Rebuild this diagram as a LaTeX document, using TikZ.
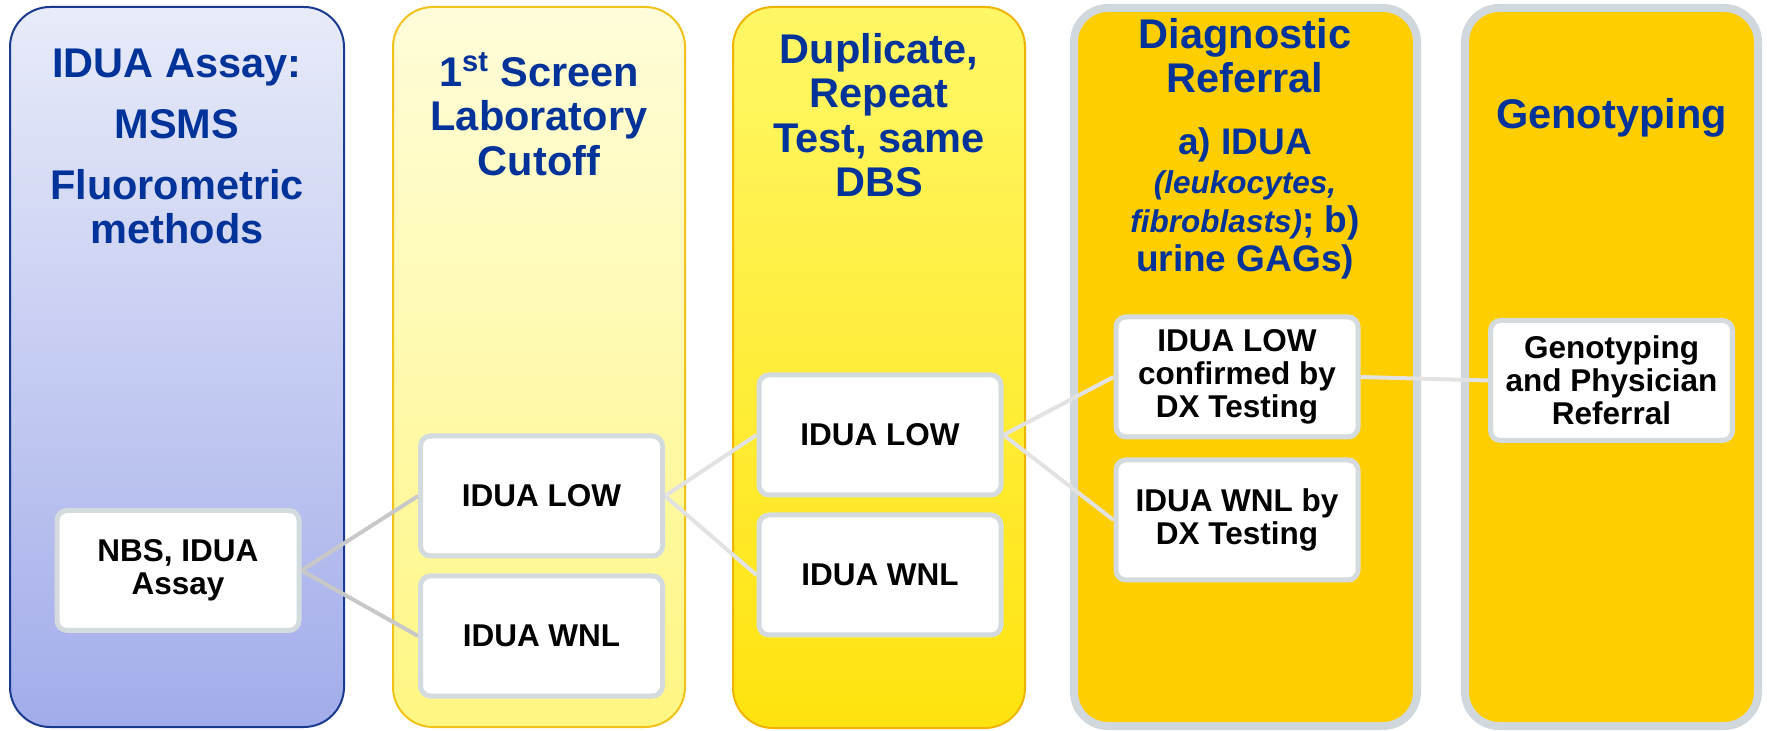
\documentclass[tikz,border=0pt]{standalone}
\usepackage{fontspec}
\setmainfont{Liberation Sans}
\definecolor{titleblue}{RGB}{0,51,153}
\definecolor{boxgray}{RGB}{211,219,223}
\definecolor{colgray}{RGB}{208,216,222}
\definecolor{gold}{RGB}{255,206,0}
\pgfdeclarelayer{bg}
\pgfsetlayers{bg,main}
\newcommand\firstln{\rule{0pt}{17pt}}
\newcommand\firstsub{\rule{0pt}{15pt}}
\newcommand\itsm{\itshape\fontsize{15.75}{19.5}\selectfont}
\begin{document}
\begin{tikzpicture}[x=0.5pt,y=-0.5pt,
  colA/.style={draw={rgb,255:red,26;green,58;blue,143}, line width=1pt, rounded corners=20pt,
    top color={rgb,255:red,232;green,235;blue,249}, bottom color={rgb,255:red,162;green,172;blue,234}},
  colB/.style={draw={rgb,255:red,240;green,194;blue,26}, line width=1pt, rounded corners=20pt,
    top color={rgb,255:red,255;green,253;blue,218}, bottom color={rgb,255:red,255;green,246;blue,130}},
  colC/.style={draw={rgb,255:red,240;green,180;blue,0}, line width=1pt, rounded corners=20pt,
    top color={rgb,255:red,255;green,247;blue,102}, bottom color={rgb,255:red,255;green,227;blue,15}},
  colD/.style={draw=colgray, line width=4pt, rounded corners=17pt, fill=gold},
  heading/.style={text=titleblue, font=\bfseries\fontsize{20.75}{22.25}\selectfont,
    align=center, anchor=north, inner sep=0pt},
  subheading/.style={text=titleblue, font=\bfseries\fontsize{18.5}{19.5}\selectfont,
    align=center, anchor=north, inner sep=0pt},
  box/.style={draw=boxgray, line width=2.5pt, fill=white, rounded corners=5pt,
    minimum width=121pt, minimum height=60pt, align=center, inner sep=2pt,
    font=\bfseries\fontsize{15.75}{16.5}\selectfont},
  connA/.style={draw={rgb,255:red,200;green,200;blue,200}, line width=2pt},
  connB/.style={draw={rgb,255:red,226;green,226;blue,226}, line width=2pt}
]
\useasboundingbox (0,0) rectangle (1767,731);

% inner boxes
\node[box] (nbs)   at (178,570.5)  {NBS, IDUA\\Assay};
\node[box] (low1)  at (541.5,496)  {IDUA LOW};
\node[box] (wnl1)  at (541.5,636)  {IDUA WNL};
\node[box] (low2)  at (880,435)    {IDUA LOW};
\node[box] (wnl2)  at (880,575)    {IDUA WNL};
\node[box] (conf)  at (1237,377)   {IDUA LOW\\confirmed by\\DX Testing};
\node[box] (dxwnl) at (1237,520)   {IDUA WNL by\\DX Testing};
\node[box] (geno)  at (1611.5,380.5) {Genotyping\\and Physician\\Referral};

\begin{pgfonlayer}{bg}
  % columns
  \path[colA] (10,7) rectangle (344,727);
  \path[colB] (393,7) rectangle (685,727);
  \path[colC] (733,7) rectangle (1025,728);
  \path[colD] (1074,8) rectangle (1417,726);
  \path[colD] (1465,8) rectangle (1758,726);
  % connectors
  \draw[connA] (nbs.east) -- (low1.west);
  \draw[connA] (nbs.east) -- (wnl1.west);
  \draw[connB] (low1.east) -- (low2.west);
  \draw[connB] (low1.east) -- (wnl2.west);
  \draw[connB] (low2.east) -- (conf.west);
  \draw[connB] (low2.east) -- (dxwnl.west);
  \draw[connB] (conf.east) -- (geno.west);
\end{pgfonlayer}

% headings
\node[heading] (h1) at (177,43) {\firstln IDUA Assay:\\[8.25pt] MSMS\\[8.25pt] Fluorometric\\ methods};
\node[heading] (h2) at (539,52) {\firstln 1\textsuperscript{st} Screen\\ Laboratory\\ Cutoff};
\node[heading] (h3) at (879,29) {\firstln Duplicate,\\ Repeat\\ Test, same\\ DBS};
\node[heading] (h4) at (1245,14) {\firstln Diagnostic\\ Referral};
\node[subheading] (h4b) at (1245,124) {\firstsub a) IDUA\\ {\itsm(leukocytes,}\\ {\itsm fibroblasts)}; b)\\ urine GAGs)};
\node[heading] (h5) at (1611.5,94) {\firstln Genotyping};
\end{tikzpicture}
\end{document}
